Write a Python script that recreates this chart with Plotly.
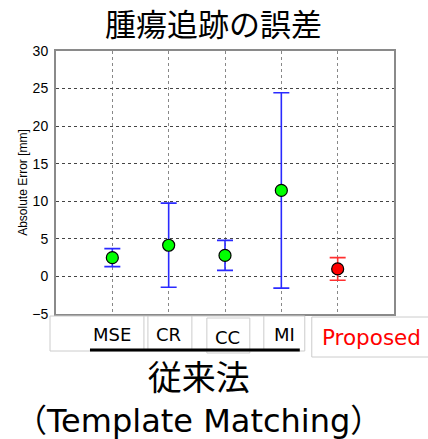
import plotly.graph_objects as go

# Tracking error per method (mean and standard deviation, mm)
methods = ["MSE", "CR", "CC", "MI", "Proposed"]
positions = [1, 2, 3, 4, 5]
mean_err = [2.5, 4.15, 2.8, 11.45, 1.0]
std_err = [1.2, 5.6, 2.0, 13.0, 1.5]

conv_idx = [0, 1, 2, 3]
prop_idx = [4]

W, H = 428, 439
L, R, T, B = 56, 394.3, 51, 314  # plot area in pixels

def px(x):
    return (x - L) / (R - L)

def py(y):
    return (B - y) / (B - T)

fig = go.Figure()

fig.add_trace(go.Scatter(
    x=[positions[i] for i in conv_idx],
    y=[mean_err[i] for i in conv_idx],
    mode="markers",
    marker=dict(size=12, color="#00ff00", line=dict(color="black", width=1.2)),
    error_y=dict(type="data", array=[std_err[i] for i in conv_idx],
                 color="#2a2aff", thickness=1.6, width=8),
    showlegend=False,
))
fig.add_trace(go.Scatter(
    x=[positions[i] for i in prop_idx],
    y=[mean_err[i] for i in prop_idx],
    mode="markers",
    marker=dict(size=12, color="#ff0000", line=dict(color="black", width=1.2)),
    error_y=dict(type="data", array=[std_err[i] for i in prop_idx],
                 color="#ff3030", thickness=1.6, width=8),
    showlegend=False,
))

tick_font = dict(family="Liberation Sans, Arial, sans-serif", size=14, color="black")

fig.update_xaxes(
    range=[0, 6], tickvals=positions, showticklabels=False,
    showgrid=True, gridcolor="#888888", griddash="dot", gridwidth=1,
    zeroline=False, showline=True, linecolor="#8a8a8a", linewidth=2, mirror=True,
)
fig.update_yaxes(
    range=[-5, 30], tickvals=[-5, 0, 5, 10, 15, 20, 25, 30],
    ticktext=["\u22125", "0", "5", "10", "15", "20", "25", "30"],
    tickfont=tick_font, ticks="", ticklabelstandoff=3,
    showgrid=True, gridcolor="#444444", griddash="dot", gridwidth=1,
    zeroline=False, showline=True, linecolor="#8a8a8a", linewidth=2, mirror=True,
    title=dict(text="Absolute Error [mm]", standoff=2,
               font=dict(family="Liberation Sans, Arial, sans-serif", size=12, color="black")),
)

jp_font = "Noto Sans CJK JP, sans-serif"
label_font = "DejaVu Sans, Noto Sans CJK JP, sans-serif"
annotations = [
    dict(text="腫瘍追跡の誤差", x=px(214), y=py(23), font=dict(family=jp_font, size=31, color="black")),
    dict(text="MSE", x=px(112), y=py(334), font=dict(family=label_font, size=18, color="black")),
    dict(text="CR", x=px(169), y=py(334), font=dict(family=label_font, size=18, color="black")),
    dict(text="CC", x=px(228), y=py(337), font=dict(family=label_font, size=18, color="black")),
    dict(text="MI", x=px(285), y=py(334), font=dict(family=label_font, size=18, color="black")),
    dict(text="Proposed", x=px(372), y=py(337), font=dict(family=label_font, size=21.5, color="#ff0000")),
    dict(text='<span style="font-size:34px">従来法</span><br>（Template Matching）',
         x=px(199), y=py(399), font=dict(family=label_font, size=32, color="black")),
]
for a in annotations:
    a.update(xref="paper", yref="paper", showarrow=False, xanchor="center", yanchor="middle")

box_line = dict(color="#cccccc", width=1)
shapes = [
    dict(type="rect", x0=px(50), x1=px(305), y0=py(316), y1=py(351), line=box_line),
    dict(type="line", x0=px(144), x1=px(144), y0=py(316), y1=py(349), line=box_line),
    dict(type="line", x0=px(148), x1=px(148), y0=py(316), y1=py(349), line=box_line),
    dict(type="line", x0=px(192), x1=px(192), y0=py(316), y1=py(349), line=box_line),
    dict(type="line", x0=px(264), x1=px(264), y0=py(316), y1=py(349), line=box_line),
    dict(type="rect", x0=px(207), x1=px(250), y0=py(318), y1=py(353), line=box_line),
    dict(type="rect", x0=px(312), x1=px(432), y0=py(317), y1=py(357), line=box_line),
    dict(type="line", x0=px(90), x1=px(300), y0=py(350), y1=py(350), line=dict(color="black", width=3)),
]
for s in shapes:
    s.update(xref="paper", yref="paper", layer="above")

fig.update_layout(
    width=W, height=H,
    margin=dict(l=L, r=W - R, t=T, b=H - B, pad=0),
    paper_bgcolor="white", plot_bgcolor="white",
    annotations=annotations, shapes=shapes,
)

fig.write_html("out.html")
